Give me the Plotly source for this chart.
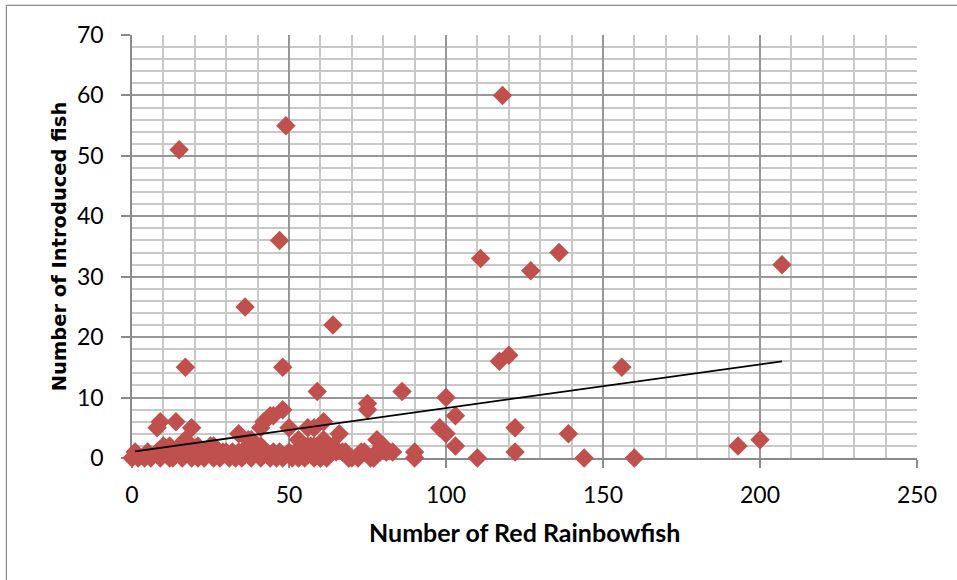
import plotly.graph_objects as go

# Number of Red Rainbowfish (x) and Number of Introduced fish (y)
red_rainbowfish = [
    15, 49, 118, 47, 36, 64, 17, 48, 59, 86, 75, 75, 100, 103, 98, 100, 103,
    111, 127, 136, 207, 117, 120, 122, 122, 110, 139, 144, 156, 160, 193, 200,
    90, 90,
    8, 9, 14, 19, 17, 34, 37, 38, 41, 42, 44, 45, 48, 50, 53, 56, 58, 61, 61,
    66, 64, 57, 78, 80, 83, 67, 69, 74, 76, 78, 60, 40, 47, 30, 25, 12,
    0, 2, 4, 6, 9, 12, 13, 16, 19, 21, 23, 26, 28, 31, 33, 35, 38, 41, 44,
    46, 48, 51, 53, 55, 58, 60, 62, 70, 72, 77,
    1, 5, 8, 11, 14, 17, 20, 22, 24, 27, 29, 32, 36, 39, 42, 45, 50, 52, 54,
    57, 59, 65, 68, 73, 79, 81,
    10, 15, 21, 26, 37, 41, 55, 58, 62, 80, 34, 39, 54, 56
]
introduced_fish = [
    51, 55, 60, 36, 25, 22, 15, 15, 11, 11, 9, 8, 10, 7, 5, 4, 2,
    33, 31, 34, 32, 16, 17, 5, 1, 0, 4, 0, 15, 0, 2, 3,
    1, 0,
    5, 6, 6, 5, 3, 4, 3, 3, 5, 6, 7, 7, 8, 5, 3, 5, 5, 6, 3,
    4, 2, 2, 3, 2, 1, 1, 0, 1, 0, 1, 0, 2, 1, 1, 2, 2,
    0, 0, 0, 0, 0, 0, 0, 0, 0, 0, 0, 0, 0, 0, 0, 0, 0, 0, 0,
    0, 0, 0, 0, 0, 0, 0, 0, 0, 0, 0,
    1, 1, 1, 1, 1, 1, 1, 1, 1, 1, 1, 1, 1, 1, 1, 1, 1, 1, 1,
    1, 1, 1, 1, 1, 1, 1,
    2, 2, 2, 2, 2, 2, 2, 2, 2, 2, 1, 1, 1, 2
]

# Linear trendline endpoints
trend_x = [1, 207]
trend_y = [1.1, 16.0]

x_ticks = [0, 50, 100, 150, 200, 250]
y_ticks = [0, 10, 20, 30, 40, 50, 60, 70]

MAJOR = "#979797"
MINOR = "#c8c8c8"
AXIS = "#8a8a8a"
FONT = "Lato"

fig = go.Figure()
fig.add_trace(go.Scatter(
    x=red_rainbowfish, y=introduced_fish, mode="markers",
    marker=dict(symbol="diamond", size=15, color="#C0504D", line=dict(width=0)),
    cliponaxis=False, hoverinfo="x+y"))
fig.add_trace(go.Scatter(
    x=trend_x, y=trend_y, mode="lines",
    line=dict(color="black", width=1.8), hoverinfo="skip"))

fig.update_layout(
    width=957, height=580,
    margin=dict(l=132, r=40, t=35, b=122),
    plot_bgcolor="white", paper_bgcolor="white",
    showlegend=False,
    font=dict(family=FONT, size=23, color="black"),
)

fig.update_xaxes(
    range=[0, 250], tickmode="array", tickvals=x_ticks,
    ticktext=[str(v) for v in x_ticks],
    showgrid=True, gridcolor=MAJOR, gridwidth=1.5,
    minor=dict(tick0=0, dtick=10, showgrid=True, gridcolor=MINOR, gridwidth=1.5),
    showline=True, linecolor=AXIS, linewidth=1.5,
    ticks="outside", ticklen=8, tickcolor=AXIS, tickwidth=1.5,
    zeroline=False, layer="below traces",
    ticklabelstandoff=8,
    tickfont=dict(family=FONT, size=23, color="black"),
)
fig.update_yaxes(
    range=[0, 70], tickmode="array", tickvals=y_ticks,
    ticktext=[str(v) for v in y_ticks],
    showgrid=True, gridcolor=MAJOR, gridwidth=1.5,
    minor=dict(tick0=0, dtick=2, showgrid=True, gridcolor=MINOR, gridwidth=1.5),
    showline=True, linecolor=AXIS, linewidth=1.5,
    ticks="outside", ticklen=9, tickcolor=AXIS, tickwidth=1.5,
    zeroline=False, layer="below traces",
    ticklabelstandoff=13,
    tickfont=dict(family=FONT, size=23, color="black"),
)

fig.add_annotation(
    text="<b>Number of Red Rainbowfish</b>", xref="paper", yref="paper",
    x=0.5, y=-0.176, xanchor="center", yanchor="middle", showarrow=False,
    font=dict(family=FONT, size=25, color="black"))
fig.add_annotation(
    text="<b>Number of Introduced fish</b>", xref="paper", yref="paper",
    x=-0.092, y=0.5, xanchor="center", yanchor="middle", textangle=-90,
    showarrow=False, font=dict(family="DejaVu Sans", size=19.5, color="black"))

# outer chart border
fig.add_shape(type="rect", xref="paper", yref="paper",
              x0=-0.160, x1=1.2, y0=-0.5, y1=1.0698,
              line=dict(color="#8c8c8c", width=1.2), layer="below")

fig.write_html("out.html")
